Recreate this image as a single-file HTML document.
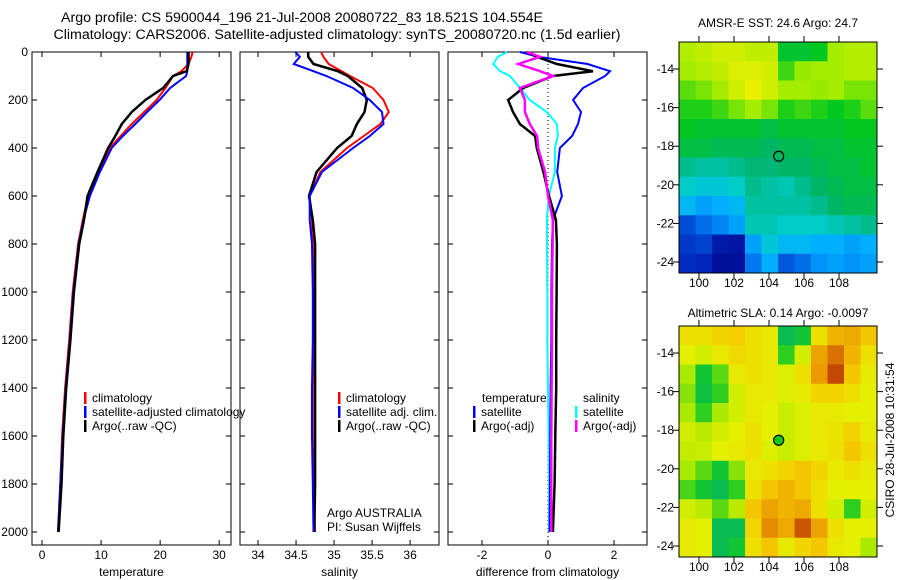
<!DOCTYPE html>
<html><head><meta charset="utf-8"><style>
body{margin:0;background:#fff;}
svg{display:block;font-family:"Liberation Sans",sans-serif;}
</style></head><body>
<svg id="fig" width="900" height="580" viewBox="0 0 900 580">
<text x="302" y="22" font-size="14.2" text-anchor="middle">Argo profile: CS 5900044_196 21-Jul-2008 20080722_83 18.521S 104.554E</text>
<text x="337" y="39" font-size="14.2" text-anchor="middle">Climatology: CARS2006. Satellite-adjusted climatology: synTS_20080720.nc (1.5d earlier)</text>
<text x="778" y="27" font-size="12" text-anchor="middle">AMSR-E SST: 24.6  Argo: 24.7</text>
<text x="778" y="317" font-size="12" text-anchor="middle">Altimetric SLA: 0.14  Argo: -0.0097</text>
<text transform="translate(894,440) rotate(-90)" font-size="12" text-anchor="middle">CSIRO 28-Jul-2008 10:31:54</text>
<g id="g"></g>
</svg>
<script>
// ---- data ----
const depths      = [0,20,50,80,100,150,200,250,300,350,400,500,600,700,800,1000,1200,1400,1600,1800,2000];
const tempClim    = [25.5,25.3,24.8,23.6,22.2,20.9,19.4,17.3,15.2,13.3,11.5,9.5,7.8,6.9,6.1,5.2,4.6,3.9,3.4,3.1,2.7];
const tempSat     = [24.6,24.6,24.6,24.6,24.4,21.7,19.9,17.8,15.8,13.7,11.8,9.8,8.1,7.0,6.2,5.3,4.7,4.0,3.5,3.1,2.7];
const tempArgo    = [24.8,24.8,24.8,24.5,22.2,20.5,17.5,15.2,13.5,12.4,11.2,9.4,7.7,7.1,6.3,5.4,4.8,4.1,3.6,3.3,2.8];
const salClim     = [34.83,34.86,34.93,35.1,35.21,35.51,35.65,35.72,35.61,35.39,35.17,34.82,34.68,34.71,34.72,34.73,34.73,34.72,34.72,34.73,34.75];
const salSat      = [34.49,34.55,34.47,34.73,34.9,35.25,35.47,35.63,35.65,35.47,35.25,34.84,34.68,34.68,34.71,34.72,34.72,34.71,34.71,34.72,34.73];
const salArgo     = [34.66,34.66,34.73,35.05,35.18,35.37,35.43,35.4,35.3,35.23,35.04,34.77,34.67,34.72,34.75,34.75,34.75,34.75,34.75,34.75,34.74];
const diffTSat    = [-0.85,-0.3,1.2,1.88,1.73,1.06,0.76,1.0,0.91,0.73,0.36,0.28,0.42,0.15,0.12,0.1,0.1,0.08,0.07,0.06,0.05];
const diffTArgo   = [-0.64,-0.33,0.27,1.36,0.15,-0.75,-1.21,-1.06,-0.85,-0.39,-0.34,-0.14,0.03,0.24,0.27,0.26,0.25,0.25,0.22,0.2,0.15];
const diffSSat    = [-1.24,-1.52,-1.66,-1.45,-1.15,-0.85,-0.55,-0.04,0.27,0.3,0.21,0.21,0.02,-0.03,-0.03,-0.02,-0.02,0.0,0.02,0.03,0.03];
const diffSArgo   = [-0.64,-0.24,-0.9,-0.24,0.15,-0.85,-0.7,-0.7,-0.55,-0.33,-0.3,-0.09,0.0,0.15,0.14,0.12,0.12,0.11,0.1,0.1,0.1];
const depthTicks  = [0,200,400,600,800,1000,1200,1400,1600,1800,2000];
const tempTicks   = [0,10,20,30];
const salTicks    = [34,34.5,35,35.5,36];
const salTickLabels = ["34","34.5","35","35.5","36"];
const diffTicks   = [-2,0,2];
const latTicks    = [-14,-16,-18,-20,-22,-24];
const lonTicks    = [100,102,104,106,108];
const argoLon = 104.554, argoLat = -18.521;
const sstGrid = [
[.78,.80,.82,.82,.80,.80,.62,.62,.64,.76,.78,.78],
[.76,.78,.80,.84,.84,.82,.68,.74,.76,.76,.78,.78],
[.70,.72,.76,.82,.86,.82,.76,.76,.74,.76,.72,.72],
[.66,.66,.68,.72,.76,.72,.66,.68,.66,.64,.66,.70],
[.64,.62,.62,.62,.62,.60,.62,.62,.62,.62,.64,.64],
[.60,.60,.58,.58,.58,.56,.58,.58,.60,.60,.62,.62],
[.52,.50,.50,.52,.54,.54,.56,.56,.58,.60,.60,.62],
[.46,.44,.44,.46,.52,.50,.48,.52,.56,.58,.60,.60],
[.40,.36,.38,.40,.50,.50,.50,.50,.52,.56,.58,.58],
[.22,.28,.32,.36,.48,.48,.46,.46,.46,.48,.50,.52],
[.18,.20,.10,.08,.36,.44,.40,.40,.38,.38,.36,.38],
[.16,.14,.06,.06,.30,.38,.24,.28,.34,.36,.34,.36]];
const slaGrid = [
[.50,.50,.55,.58,.50,.45,.05,.10,.50,.65,.68,.60],
[.42,.38,.45,.52,.50,.45,.15,.38,.70,.80,.65,.50],
[.30,.10,.20,.45,.50,.45,.40,.50,.72,.88,.60,.45],
[.25,.08,.15,.38,.45,.45,.40,.45,.55,.55,.50,.42],
[.30,.15,.30,.38,.45,.42,.36,.40,.45,.45,.42,.42],
[.38,.33,.38,.42,.50,.42,.36,.40,.45,.48,.56,.45],
[.35,.36,.42,.45,.50,.40,.36,.40,.45,.50,.60,.50],
[.30,.20,.10,.25,.45,.50,.55,.60,.55,.45,.50,.45],
[.18,.10,.05,.15,.50,.60,.65,.60,.50,.42,.42,.42],
[.38,.33,.20,.33,.60,.70,.65,.68,.50,.38,.15,.38],
[.45,.42,.05,.05,.55,.75,.68,.85,.70,.50,.42,.42],
[.45,.42,.05,.10,.50,.60,.45,.55,.60,.45,.42,.30]];

const NS="http://www.w3.org/2000/svg", G=document.getElementById('g');
function mk(t,a,p){const e=document.createElementNS(NS,t);for(const k in a)e.setAttribute(k,a[k]);(p||G).appendChild(e);return e;}
const yD = d => 52 + d*0.24;
const TOP=52, BOT=545;
const panels=[
 {x0:32,x1:231,vmin:-1.7,vmax:32.0,name:'temperature'},
 {x0:240,x1:439,vmin:33.763,vmax:36.38,name:'salinity'},
 {x0:448,x1:647,vmin:-3.03,vmax:3.0,name:'difference from climatology'}];
function xf(p){return v=>p.x0+(v-p.vmin)/(p.vmax-p.vmin)*(p.x1-p.x0);}
function line(p,vals,color,w,name){
  const X=xf(p);const pts=vals.map((v,i)=>X(v).toFixed(1)+','+yD(depths[i]).toFixed(1)).join(' ');
  const e=mk('polyline',{points:pts,fill:'none',stroke:color,'stroke-width':w,'stroke-linejoin':'miter'});
  
  
}
function panel(p,ticks,labels,idx){
  const X=xf(p);
  const r=mk('rect',{x:p.x0,y:TOP,width:p.x1-p.x0,height:BOT-TOP,fill:'none',stroke:'#000','stroke-width':1});
  
  
  ticks.forEach((t,i)=>{const x=X(t);
    mk('line',{x1:x,x2:x,y1:BOT,y2:BOT-5,stroke:'#000'});mk('line',{x1:x,x2:x,y1:TOP,y2:TOP+5,stroke:'#000'});
    const tx=mk('text',{x:x,y:559,'font-size':12,'text-anchor':'middle'});tx.textContent=labels[i];
    
    });
  depthTicks.forEach(d=>{const y=yD(d);
    mk('line',{x1:p.x0,x2:p.x0+5,y1:y,y2:y,stroke:'#000'});mk('line',{x1:p.x1,x2:p.x1-5,y1:y,y2:y,stroke:'#000'});
    if(idx===0){const tx=mk('text',{x:28,y:y+4,'font-size':12,'text-anchor':'end'});tx.textContent=d;
      
      }});
  const xl=mk('text',{x:(p.x0+p.x1)/2,y:576,'font-size':12,'text-anchor':'middle'});xl.textContent=p.name;
  
  
}
panel(panels[0],tempTicks,tempTicks.map(String),0);
panel(panels[1],salTicks,salTickLabels,1);
panel(panels[2],diffTicks,diffTicks.map(String),2);
{const x=xf(panels[2])(0);const z=mk('line',{x1:x,x2:x,y1:TOP,y2:BOT,stroke:'#000','stroke-dasharray':'1,3'});
 
 }
line(panels[0],tempClim,'#f00',2,'temp-climatology-line');
line(panels[0],tempSat,'#00f',2,'temp-satellite-line');
line(panels[0],tempArgo,'#000',2.5,'temp-argo-line');
line(panels[1],salClim,'#f00',2,'sal-climatology-line');
line(panels[1],salArgo,'#000',2.5,'sal-argo-line');
line(panels[1],salSat,'#00f',2,'sal-satellite-line');
line(panels[2],diffSSat,'#0ff',2,'diff-sal-satellite-line');
line(panels[2],diffTSat,'#00f',2,'diff-temp-satellite-line');
line(panels[2],diffTArgo,'#000',2.5,'diff-temp-argo-line');
line(panels[2],diffSArgo,'#f0f',2.5,'diff-sal-argo-line');
function leg(x,y,color,label,name){
  if(color){mk('rect',{x:x,y:y-10,width:2.5,height:12,fill:color});}
  const t=mk('text',{x:x+8,y:y,'font-size':12});t.textContent=label;
  
  
}
leg(84,402,'#f00','climatology','legend-climatology');
leg(84,416,'#00f','satellite-adjusted climatology','legend-satellite-adjusted');
leg(84,430,'#000','Argo(..raw -QC)','legend-argo');
leg(338,402,'#f00','climatology','legend-sal-climatology');
leg(338,416,'#00f','satellite adj. clim.','legend-sal-satellite');
leg(338,430,'#000','Argo(..raw -QC)','legend-sal-argo');
leg(474,402,null,'temperature','legend-temperature-header');
leg(473,416,'#00f','satellite','legend-diff-temp-satellite');
leg(473,430,'#000','Argo(-adj)','legend-diff-temp-argo');
leg(575,402,null,'salinity','legend-salinity-header');
leg(575,416,'#0ff','satellite','legend-diff-sal-satellite');
leg(575,430,'#f0f','Argo(-adj)','legend-diff-sal-argo');
{const t=mk('text',{x:327,y:517,'font-size':12});t.textContent='Argo AUSTRALIA';
 
 
 const t2=mk('text',{x:327,y:531,'font-size':12});t2.textContent='PI: Susan Wijffels';
 
 }
// ---- maps ----
function interp(stops,v){for(let i=1;i<stops.length;i++){if(v<=stops[i][0]){const a=stops[i-1],b=stops[i],f=(v-a[0])/(b[0]-a[0]);
  return 'rgb('+[1,2,3].map(k=>Math.round(a[k]+(b[k]-a[k])*f)).join(',')+')';}}const l=stops[stops.length-1];return 'rgb('+l[1]+','+l[2]+','+l[3]+')';}
const sstStops=[[0,0,0,130],[0.15,0,40,190],[0.3,0,120,240],[0.38,0,175,255],[0.46,0,205,200],[0.55,0,180,110],[0.64,0,200,30],[0.74,150,235,0],[0.86,235,240,0],[1,255,230,0]];
const slaStops=[[0,0,180,110],[0.12,20,200,40],[0.28,160,232,0],[0.42,228,240,0],[0.58,245,205,0],[0.72,235,155,0],[0.9,190,60,0],[1,160,30,0]];
function map(top,grid,stops,name,filled){
  const L=679,R=877,B=top+231,lonMin=98.86,lonMax=110.17,latTop=-12.6,latBot=-24.57;
  const X=v=>L+(v-lonMin)/(lonMax-lonMin)*(R-L), Y=v=>top+(latTop-v)/(latTop-latBot)*(B-top);
  const rows=grid.length,cols=grid[0].length,cw=(R-L)/cols,ch=(B-top)/rows;
  grid.forEach((row,r)=>row.forEach((v,c)=>{
    const e=mk('rect',{x:L+c*cw,y:top+r*ch,width:cw+0.5,height:ch+0.5,fill:interp(stops,v)});
    
    }));
  const fr=mk('rect',{x:L,y:top,width:R-L,height:B-top,fill:'none',stroke:'#000'});
  
  
  latTicks.forEach(t=>{const y=Y(t);mk('line',{x1:L-6,x2:L,y1:y,y2:y,stroke:'#000'});mk('line',{x1:R,x2:R+6,y1:y,y2:y,stroke:'#000'});
    const tx=mk('text',{x:L-5,y:y+4,'font-size':12,'text-anchor':'end'});tx.textContent=t;
    
    });
  lonTicks.forEach(t=>{const x=X(t);mk('line',{x1:x,x2:x,y1:top-6,y2:top,stroke:'#000'});mk('line',{x1:x,x2:x,y1:B,y2:B+6,stroke:'#000'});
    const tx=mk('text',{x:x,y:B+14,'font-size':12,'text-anchor':'middle'});tx.textContent=t;
    
    });
  const m=mk('circle',{cx:X(argoLon),cy:Y(argoLat),r:5,fill:filled?'#1c1':'none',stroke:'#000','stroke-width':1.2});
  
  
}
map(42,sstGrid,sstStops,'sst-map',false);
map(326,slaGrid,slaStops,'sla-map',true);
</script>
</body></html>
